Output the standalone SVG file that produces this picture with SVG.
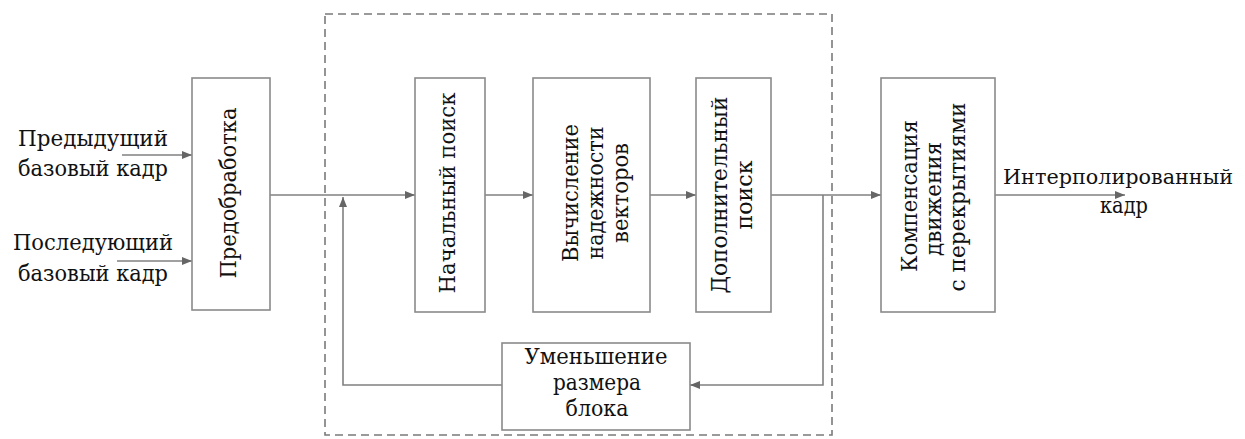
<svg xmlns="http://www.w3.org/2000/svg" width="1245" height="439" viewBox="0 0 1245 439">
<defs>
<marker id="arr" viewBox="0 0 10 8" refX="10" refY="4" markerWidth="10" markerHeight="8" markerUnits="userSpaceOnUse" orient="auto">
<path d="M0,0 L10,4 L0,8 Z" fill="#666"/>
</marker>
</defs>
<style>
.box{fill:#fff;stroke:#8a8a8a;stroke-width:1.6}
.ln{fill:none;stroke:#808080;stroke-width:1.6}
.t{font-family:"DejaVu Serif",serif;font-size:23px;fill:#111;text-anchor:middle}
.dash{fill:none;stroke:#7a7a7a;stroke-width:1.6;stroke-dasharray:8 5}
</style>
<rect width="1245" height="439" fill="#fff"/>
<rect class="dash" x="325" y="14" width="507" height="421"/>
<g id="connectors">
<line class="ln" x1="122" y1="155" x2="192" y2="155" marker-end="url(#arr)"/>
<line class="ln" x1="117" y1="261" x2="192" y2="261" marker-end="url(#arr)"/>
<line class="ln" x1="270" y1="195" x2="415" y2="195" marker-end="url(#arr)"/>
<line class="ln" x1="485" y1="195" x2="533" y2="195" marker-end="url(#arr)"/>
<line class="ln" x1="650" y1="195" x2="696" y2="195" marker-end="url(#arr)"/>
<line class="ln" x1="771" y1="195" x2="881" y2="195" marker-end="url(#arr)"/>
<polyline class="ln" points="823,195 823,385 690,385" marker-end="url(#arr)"/>
<polyline class="ln" points="502,385 343,385 343,197" marker-end="url(#arr)"/>
<line class="ln" x1="995" y1="195" x2="1125" y2="195" marker-end="url(#arr)"/>
</g>
<g id="in-prev">
<text class="t" x="93" y="146" textLength="150" lengthAdjust="spacingAndGlyphs">Предыдущий</text>
<text class="t" x="93" y="176" textLength="150" lengthAdjust="spacingAndGlyphs">базовый кадр</text>
</g>
<g id="in-next">
<text class="t" x="93" y="250" textLength="160" lengthAdjust="spacingAndGlyphs">Последующий</text>
<text class="t" x="93" y="281" textLength="150" lengthAdjust="spacingAndGlyphs">базовый кадр</text>
</g>
<g id="preproc">
<rect class="box" x="192" y="78" width="78" height="232"/>
<text class="t" transform="translate(236,193) rotate(-90)" textLength="171" lengthAdjust="spacingAndGlyphs">Предобработка</text>
</g>
<g id="initial">
<rect class="box" x="415" y="78" width="70" height="234"/>
<text class="t" transform="translate(455,193) rotate(-90)" textLength="201" lengthAdjust="spacingAndGlyphs">Начальный поиск</text>
</g>
<g id="reliability">
<rect class="box" x="533" y="78" width="117" height="234"/>
<text class="t" transform="translate(578,193) rotate(-90)" textLength="138" lengthAdjust="spacingAndGlyphs">Вычисление</text>
<text class="t" transform="translate(603,193) rotate(-90)" textLength="133" lengthAdjust="spacingAndGlyphs">надежности</text>
<text class="t" transform="translate(628,193) rotate(-90)" textLength="100" lengthAdjust="spacingAndGlyphs">векторов</text>
</g>
<g id="additional">
<rect class="box" x="696" y="78" width="75" height="234"/>
<text class="t" transform="translate(727,195) rotate(-90)" textLength="197" lengthAdjust="spacingAndGlyphs">Дополнительный</text>
<text class="t" transform="translate(752,195) rotate(-90)" textLength="69" lengthAdjust="spacingAndGlyphs">поиск</text>
</g>
<g id="compensation">
<rect class="box" x="881" y="78" width="114" height="234"/>
<text class="t" transform="translate(917,196) rotate(-90)" textLength="152" lengthAdjust="spacingAndGlyphs">Компенсация</text>
<text class="t" transform="translate(941,199) rotate(-90)" textLength="114" lengthAdjust="spacingAndGlyphs">движения</text>
<text class="t" transform="translate(965,197) rotate(-90)" textLength="189" lengthAdjust="spacingAndGlyphs">с перекрытиями</text>
</g>
<g id="reduce">
<rect class="box" x="502" y="343" width="188" height="87"/>
<text class="t" x="596" y="364" textLength="143" lengthAdjust="spacingAndGlyphs">Уменьшение</text>
<text class="t" x="597" y="390" textLength="88" lengthAdjust="spacingAndGlyphs">размера</text>
<text class="t" x="597" y="416" textLength="63" lengthAdjust="spacingAndGlyphs">блока</text>
</g>
<g id="out">
<text class="t" x="1118" y="184" style="font-size:21px" textLength="230" lengthAdjust="spacingAndGlyphs">Интерполированный</text>
<text class="t" x="1124" y="213" textLength="48" lengthAdjust="spacingAndGlyphs">кадр</text>
</g>
</svg>
